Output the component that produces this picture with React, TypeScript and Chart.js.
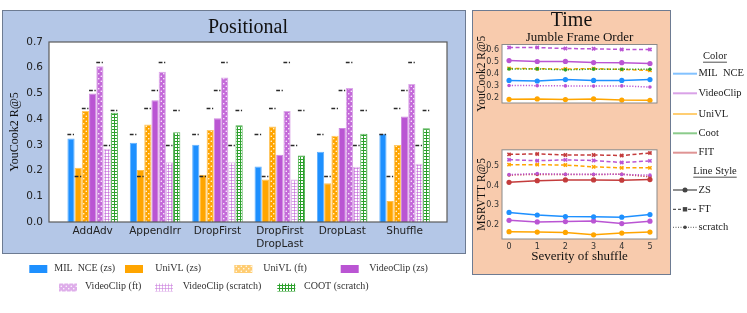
import React, { useEffect, useRef } from 'react';
import { Chart, registerables } from 'chart.js';
Chart.register(...registerables);

const SERIF = "'Liberation Serif', 'Times New Roman', serif";
const SANS = "'DejaVu Sans', sans-serif";

// ---------- Positional (bar chart) ----------
const categories = ['AddAdv', 'AppendIrr', 'DropFirst', 'DropFirst\nDropLast', 'DropLast', 'Shuffle'];
const barLabels = ['MIL  NCE (zs)', 'UniVL (zs)', 'UniVL (ft)', 'VideoClip (zs)', 'VideoClip (ft)', 'VideoClip (scratch)', 'COOT (scratch)'];
const milNceZs = [0.325, 0.308, 0.300, 0.216, 0.273, 0.343];
const univlZs = [0.211, 0.202, 0.184, 0.165, 0.151, 0.082];
const univlFt = [0.432, 0.379, 0.358, 0.371, 0.335, 0.299];
const videoclipZs = [0.500, 0.473, 0.403, 0.262, 0.366, 0.410];
const videoclipFt = [0.606, 0.584, 0.562, 0.432, 0.521, 0.537];
const videoclipScratch = [0.285, 0.232, 0.232, 0.165, 0.215, 0.227];
const cootScratch = [0.425, 0.349, 0.376, 0.259, 0.343, 0.365];
// unperturbed reference value of each model (dash-dot markers)
const unperturbed = [0.341, 0.180, 0.442, 0.513, 0.622, 0.300, 0.437];
const positionalTicks = [0, 0.1, 0.2, 0.3, 0.4, 0.5, 0.6, 0.7];

// ---------- Time (line charts) ----------
const severity = [0, 1, 2, 3, 4, 5];
// YouCook2
const ycMilZs = [0.345, 0.340, 0.352, 0.345, 0.345, 0.352];
const ycVcZs = [0.512, 0.504, 0.505, 0.495, 0.494, 0.487];
const ycUnivlZs = [0.186, 0.189, 0.184, 0.189, 0.180, 0.178];
const ycVcFt = [0.622, 0.622, 0.613, 0.611, 0.605, 0.605];
const ycUnivlFt = [0.446, 0.443, 0.441, 0.444, 0.437, 0.429];
const ycVcScratch = [0.302, 0.301, 0.299, 0.297, 0.299, 0.289];
const ycCootScratch = [0.441, 0.442, 0.434, 0.440, 0.439, 0.439];
// MSRVTT
const msMilZs = [0.264, 0.251, 0.243, 0.242, 0.240, 0.253];
const msVcZs = [0.224, 0.216, 0.218, 0.221, 0.208, 0.220];
const msUnivlZs = [0.167, 0.165, 0.163, 0.151, 0.160, 0.165];
const msFitZs = [0.416, 0.424, 0.428, 0.428, 0.427, 0.430];
const msVcFt = [0.530, 0.525, 0.529, 0.526, 0.516, 0.524];
const msUnivlFt = [0.505, 0.505, 0.503, 0.494, 0.489, 0.489];
const msFitFt = [0.557, 0.559, 0.554, 0.554, 0.551, 0.564];
const msVcScratch = [0.455, 0.460, 0.457, 0.457, 0.456, 0.452];
const msFitScratch = [0.453, 0.456, 0.456, 0.455, 0.457, 0.444];
const ycTicks = [0.2, 0.3, 0.4, 0.5, 0.6];
const msTicks = [0.2, 0.3, 0.4, 0.5];
const colorLegendLabels = ['MIL  NCE', 'VideoClip', 'UniVL', 'Coot', 'FIT'];
const styleLegendLabels = ['ZS', 'FT', 'scratch'];

const COL = { mil: '#1e90ff', univl: '#ffa500', vc: '#ba55d3', coot: '#2ca02c', fit: '#c43c3c' };

function rgba(hex: string, a: number) {
  const n = parseInt(hex.slice(1), 16);
  return `rgba(${(n >> 16) & 255},${(n >> 8) & 255},${n & 255},${a})`;
}

function dotPattern(bg: string) {
  const c = document.createElement('canvas');
  c.width = 5; c.height = 5;
  const x = c.getContext('2d')!;
  x.fillStyle = bg; x.fillRect(0, 0, 5, 5);
  x.fillStyle = '#fff';
  [[1.25, 1.25], [3.75, 3.75]].forEach(([a, b]) => { x.beginPath(); x.arc(a, b, 0.75, 0, Math.PI * 2); x.fill(); });
  return x.createPattern(c, 'repeat')!;
}
function gridPattern(line: string) {
  const c = document.createElement('canvas');
  c.width = 3; c.height = 3;
  const x = c.getContext('2d')!;
  x.fillStyle = '#fff'; x.fillRect(0, 0, 3, 3);
  x.fillStyle = line; x.fillRect(0, 0, 3, 1); x.fillRect(0, 0, 1, 3);
  return x.createPattern(c, 'repeat')!;
}

function framePlugin(stroke: string, width: number) {
  return {
    id: 'frame',
    beforeDraw(chart: any) {
      const { ctx, chartArea: a } = chart;
      ctx.save(); ctx.fillStyle = '#fff'; ctx.fillRect(a.left, a.top, a.width, a.height); ctx.restore();
    },
    afterDraw(chart: any) {
      const { ctx, chartArea: a } = chart;
      ctx.save(); ctx.strokeStyle = stroke; ctx.lineWidth = width;
      ctx.strokeRect(a.left, a.top, a.width, a.height); ctx.restore();
    },
  };
}

const dashPlugin = {
  id: 'unperturbedDashes',
  afterDatasetsDraw(chart: any) {
    const { ctx } = chart; const ys = chart.scales.y;
    ctx.save(); ctx.strokeStyle = '#2a2a2a'; ctx.lineWidth = 1.6; ctx.setLineDash([3.8, 1.6, 1.2, 20]);
    chart.data.datasets.forEach((_ds: any, d: number) => {
      const py = Math.round(ys.getPixelForValue(unperturbed[d])) + 0.5;
      chart.getDatasetMeta(d).data.forEach((el: any) => {
        const { x, width } = el.getProps(['x', 'width'], true);
        ctx.beginPath(); ctx.moveTo(x - width / 2, py); ctx.lineTo(x + width / 2, py); ctx.stroke();
      });
    });
    ctx.restore();
  },
};

const leftLegendLayout = [
  { bx: 29.3, tx: 54.3, y: 269 }, { bx: 125, tx: 155.3, y: 269 }, { bx: 234.3, tx: 263.3, y: 269 }, { bx: 340.7, tx: 369.3, y: 269 },
  { bx: 59, tx: 85, y: 287.5 }, { bx: 155, tx: 182.7, y: 287.5 }, { bx: 277.3, tx: 304, y: 287.5 },
];
const leftLegendPlugin = {
  id: 'leftLegend',
  afterDraw(chart: any) {
    const { ctx } = chart;
    ctx.save();
    chart.data.datasets.forEach((ds: any, i: number) => {
      const p = leftLegendLayout[i];
      ctx.globalAlpha = ds.legendAlpha ?? 1;
      ctx.fillStyle = ds.backgroundColor;
      ctx.fillRect(p.bx, p.y - 4, 18, 8);
      ctx.globalAlpha = 1;
      ctx.fillStyle = '#333'; ctx.font = `10px ${SERIF}`; ctx.textBaseline = 'middle'; ctx.textAlign = 'left';
      ctx.fillText(ds.label, p.tx, p.y - 1);
    });
    ctx.restore();
  },
};

const colorRowY = [73.7, 93.3, 114, 133.3, 152.7];
const styleRowY = [190, 209.3, 227.3];
const colorLegendColors = [COL.mil, COL.vc, COL.univl, COL.coot, COL.fit];
const rightLegendPlugin = {
  id: 'rightLegend',
  afterDraw(chart: any) {
    const { ctx } = chart; const ox = 472;
    ctx.save();
    ctx.font = `10.5px ${SERIF}`; ctx.fillStyle = '#222'; ctx.textBaseline = 'middle';
    const heading = (t: string, cx: number, y: number) => {
      ctx.textAlign = 'center'; ctx.fillStyle = '#222'; ctx.fillText(t, cx, y);
      const w = ctx.measureText(t).width;
      ctx.beginPath(); ctx.moveTo(cx - w / 2, y + 5.5); ctx.lineTo(cx + w / 2, y + 5.5);
      ctx.setLineDash([]); ctx.strokeStyle = '#222'; ctx.lineWidth = 0.8; ctx.stroke();
    };
    const x0 = 673 - ox, x1 = 697 - ox, tx = 698.5 - ox, cx = 715 - ox;
    heading('Color', cx, 56.7);
    colorLegendLabels.forEach((t, i) => {
      const y = colorRowY[i];
      ctx.beginPath(); ctx.moveTo(x0, y); ctx.lineTo(x1, y);
      ctx.setLineDash([]); ctx.strokeStyle = rgba(colorLegendColors[i], 0.55); ctx.lineWidth = 2; ctx.stroke();
      ctx.textAlign = 'left'; ctx.fillStyle = '#222'; ctx.fillText(t, tx, y);
    });
    heading('Line Style', cx, 171.7);
    styleLegendLabels.forEach((t, i) => {
      const y = styleRowY[i]; const mid = (x0 + x1) / 2;
      ctx.beginPath(); ctx.moveTo(x0, y); ctx.lineTo(x1, y);
      ctx.setLineDash(i === 0 ? [] : i === 1 ? [3, 2] : [1, 1.5]);
      ctx.strokeStyle = '#555'; ctx.lineWidth = i === 2 ? 1 : 1.3; ctx.stroke();
      ctx.setLineDash([]); ctx.fillStyle = '#444';
      if (i === 1) ctx.fillRect(mid - 2.2, y - 2.2, 4.4, 4.4);
      else { ctx.beginPath(); ctx.arc(mid, y, i === 0 ? 2.5 : 1.8, 0, Math.PI * 2); ctx.fill(); }
      ctx.textAlign = 'left'; ctx.fillStyle = '#222'; ctx.fillText(t, tx, y);
    });
    ctx.restore();
  },
};

type Style = 'zs' | 'ft' | 'scratch';
function lineDs(label: string, values: number[], color: string, style: Style) {
  return {
    label,
    data: severity.map((x, i) => ({ x, y: values[i] })),
    borderColor: color,
    backgroundColor: color,
    borderWidth: 1.5,
    borderDash: style === 'ft' ? [4, 2.5] : style === 'scratch' ? [1.2, 1.6] : [],
    pointStyle: style === 'ft' ? 'crossRot' : 'circle',
    pointRadius: style === 'ft' ? 2.3 : style === 'scratch' ? 1.8 : 2.6,
    pointBorderWidth: style === 'ft' ? 1.6 : 0,
    pointBackgroundColor: color,
    pointBorderColor: color,
    tension: 0,
  };
}

const tickFont = (size: number) => ({ family: SANS, size });

function lineOptions(opts: {
  yMin: number; yMax: number; yTicks: number[]; yTitle: string; padding: any; showX: boolean; titles: boolean;
}) {
  return {
    animation: false as const,
    responsive: false,
    devicePixelRatio: 1,
    layout: { padding: opts.padding },
    plugins: {
      legend: { display: false },
      tooltip: { enabled: false },
      title: {
        display: opts.titles, text: 'Time', color: '#111',
        font: { family: SERIF, size: 20, lineHeight: 1, weight: 'normal' }, padding: { top: 10.5, bottom: 0 },
      },
      subtitle: {
        display: opts.titles, text: 'Jumble Frame Order', color: '#111', fullSize: false,
        font: { family: SERIF, size: 13, lineHeight: 1, weight: 'normal' }, padding: { top: 1, bottom: 0 },
      },
    },
    scales: {
      x: {
        type: 'linear' as const, min: -0.25, max: 5.25, display: opts.showX,
        afterBuildTicks: (s: any) => { s.ticks = severity.map((v) => ({ value: v })); },
        grid: { display: false, drawTicks: false }, border: { display: false },
        ticks: { font: tickFont(8), color: '#333', padding: 3, autoSkip: false, maxRotation: 0, callback: (v: any) => String(v) },
        title: { display: true, text: 'Severity of shuffle', color: '#111', font: { family: SERIF, size: 13, lineHeight: 1.2 }, padding: { top: 0, bottom: 10.7 } },
        afterFit: (s: any) => { s.height = 36; },
      },
      y: {
        min: opts.yMin, max: opts.yMax,
        afterBuildTicks: (s: any) => { s.ticks = opts.yTicks.map((v) => ({ value: v })); },
        grid: { display: false, drawTicks: false }, border: { display: false },
        ticks: { font: tickFont(8), color: '#333', padding: 3, autoSkip: false, callback: (v: any) => Number(v).toFixed(1) },
        title: { display: true, text: opts.yTitle, color: '#111', font: { family: SERIF, size: 11.5, lineHeight: 1.2 }, padding: { top: 2.8, bottom: 0 } },
        afterFit: (s: any) => { s.width = 30; },
      },
      yRight: {
        position: 'right' as const, display: true,
        grid: { display: false, drawTicks: false }, border: { display: false }, ticks: { display: false },
        afterFit: (s: any) => { s.width = 14; },
      },
    },
  };
}

export default function App() {
  const barRef = useRef<HTMLCanvasElement>(null);
  const ycRef = useRef<HTMLCanvasElement>(null);
  const msRef = useRef<HTMLCanvasElement>(null);

  useEffect(() => {
    document.body.style.margin = '0';
    const barSeries = [milNceZs, univlZs, univlFt, videoclipZs, videoclipFt, videoclipScratch, cootScratch];
    const fills: any[] = [COL.mil, COL.univl, dotPattern(COL.univl), COL.vc, dotPattern('#c46ad9'), gridPattern(rgba(COL.vc, 0.55)), gridPattern(COL.coot)];
    const edges = [rgba(COL.mil, 0.7), rgba(COL.univl, 0.7), rgba(COL.univl, 0.6), rgba(COL.vc, 0.7), rgba(COL.vc, 0.5), rgba(COL.vc, 0.45), rgba(COL.coot, 0.85)];
    const legendAlpha = [1, 1, 0.55, 1, 0.55, 0.8, 1];

    const bar = new Chart(barRef.current!, {
      type: 'bar',
      data: {
        datasets: barSeries.map((vals, d) => ({
          label: barLabels[d],
          data: vals.map((v, i) => ({ x: i, y: v })),
          backgroundColor: fills[d],
          borderColor: edges[d],
          borderWidth: 1,
          categoryPercentage: 0.81,
          barPercentage: 1,
          legendAlpha: legendAlpha[d],
        })) as any,
      },
      options: {
        animation: false,
        responsive: false,
        devicePixelRatio: 1,
        layout: { padding: { left: 0, right: 23, top: 0, bottom: 0 } },
        plugins: {
          legend: { display: false },
          tooltip: { enabled: false },
          title: {
            display: true, text: 'Positional', fullSize: false, color: '#111',
            font: { family: SERIF, size: 20, lineHeight: 1.2, weight: 'normal' }, padding: { top: 16, bottom: 2 },
          },
        },
        scales: {
          x: {
            type: 'linear', min: -0.7, max: 5.68, offset: false,
            afterBuildTicks: (s: any) => { s.ticks = categories.map((_, i) => ({ value: i })); },
            grid: { display: false, drawTicks: false }, border: { display: false },
            ticks: {
              font: { family: SANS, size: 10.5, lineHeight: 1.25 }, color: '#222', padding: 3, autoSkip: false, maxRotation: 0,
              callback: (v: any) => { const s = categories[Math.round(Number(v))]; return s ? s.split('\n') : ''; },
            },
            afterFit: (s: any) => { s.height = 91; },
          },
          y: {
            min: 0, max: 0.7,
            afterBuildTicks: (s: any) => { s.ticks = positionalTicks.map((v) => ({ value: v })); },
            grid: { display: false, drawTicks: false }, border: { display: false },
            ticks: { font: tickFont(10.5), color: '#222', padding: 6, autoSkip: false, callback: (v: any) => Number(v).toFixed(1) },
            title: { display: true, text: 'YouCook2 R@5', color: '#111', font: { family: SERIF, size: 12, lineHeight: 1.2 }, padding: { top: 7.8, bottom: 0 } },
            afterFit: (s: any) => { s.width = 49; },
          },
        },
      } as any,
      plugins: [framePlugin('#5a5a5a', 1.2), dashPlugin, leftLegendPlugin],
    });

    const yc = new Chart(ycRef.current!, {
      type: 'line',
      data: {
        datasets: [
          lineDs('VideoClip (scratch)', ycVcScratch, COL.vc, 'scratch'),
          lineDs('COOT (scratch)', ycCootScratch, COL.coot, 'scratch'),
          lineDs('VideoClip (ft)', ycVcFt, COL.vc, 'ft'),
          lineDs('UniVL (ft)', ycUnivlFt, COL.univl, 'ft'),
          lineDs('MIL NCE (zs)', ycMilZs, COL.mil, 'zs'),
          lineDs('VideoClip (zs)', ycVcZs, COL.vc, 'zs'),
          lineDs('UniVL (zs)', ycUnivlZs, COL.univl, 'zs'),
        ] as any,
      },
      options: lineOptions({ yMin: 0.155, yMax: 0.647, yTicks: ycTicks, yTitle: 'YouCook2 R@5', padding: { left: 0, right: 76, top: 0, bottom: 136 }, showX: false, titles: true }) as any,
      plugins: [framePlugin('#8a8a8a', 1), rightLegendPlugin],
    });

    const ms = new Chart(msRef.current!, {
      type: 'line',
      data: {
        datasets: [
          lineDs('VideoClip (scratch)', msVcScratch, COL.vc, 'scratch'),
          lineDs('FIT (scratch)', msFitScratch, COL.fit, 'scratch'),
          lineDs('FIT (ft)', msFitFt, COL.fit, 'ft'),
          lineDs('VideoClip (ft)', msVcFt, COL.vc, 'ft'),
          lineDs('UniVL (ft)', msUnivlFt, COL.univl, 'ft'),
          lineDs('FIT (zs)', msFitZs, COL.fit, 'zs'),
          lineDs('MIL NCE (zs)', msMilZs, COL.mil, 'zs'),
          lineDs('VideoClip (zs)', msVcZs, COL.vc, 'zs'),
          lineDs('UniVL (zs)', msUnivlZs, COL.univl, 'zs'),
        ] as any,
      },
      options: lineOptions({ yMin: 0.13, yMax: 0.58, yTicks: msTicks, yTitle: 'MSRVTT R@5', padding: { left: 0, right: 0, top: 3, bottom: 0 }, showX: true, titles: false }) as any,
      plugins: [framePlugin('#8a8a8a', 1)],
    });

    return () => { bar.destroy(); yc.destroy(); ms.destroy(); };
  }, []);

  const abs = (l: number, t: number, w: number, h: number): React.CSSProperties => ({ position: 'absolute', left: l, top: t, width: w, height: h, display: 'block' });

  return (
    <div style={{ position: 'fixed', left: 0, top: 0, width: 747, height: 313, background: '#fff', overflow: 'hidden' }}>
      <div style={{ ...abs(2, 10, 464, 244), background: '#b4c7e7', border: '1.5px solid #6d7b92', boxSizing: 'border-box' }} />
      <div style={{ ...abs(472, 10, 199, 265), background: '#f8cbad', border: '1.5px solid #6d7b92', boxSizing: 'border-box' }} />
      <canvas ref={barRef} width={470} height={313} style={abs(0, 0, 470, 313)} />
      <canvas ref={ycRef} width={275} height={275} style={abs(472, 0, 275, 275)} />
      <canvas ref={msRef} width={199} height={133} style={abs(472, 142, 199, 133)} />
    </div>
  );
}
